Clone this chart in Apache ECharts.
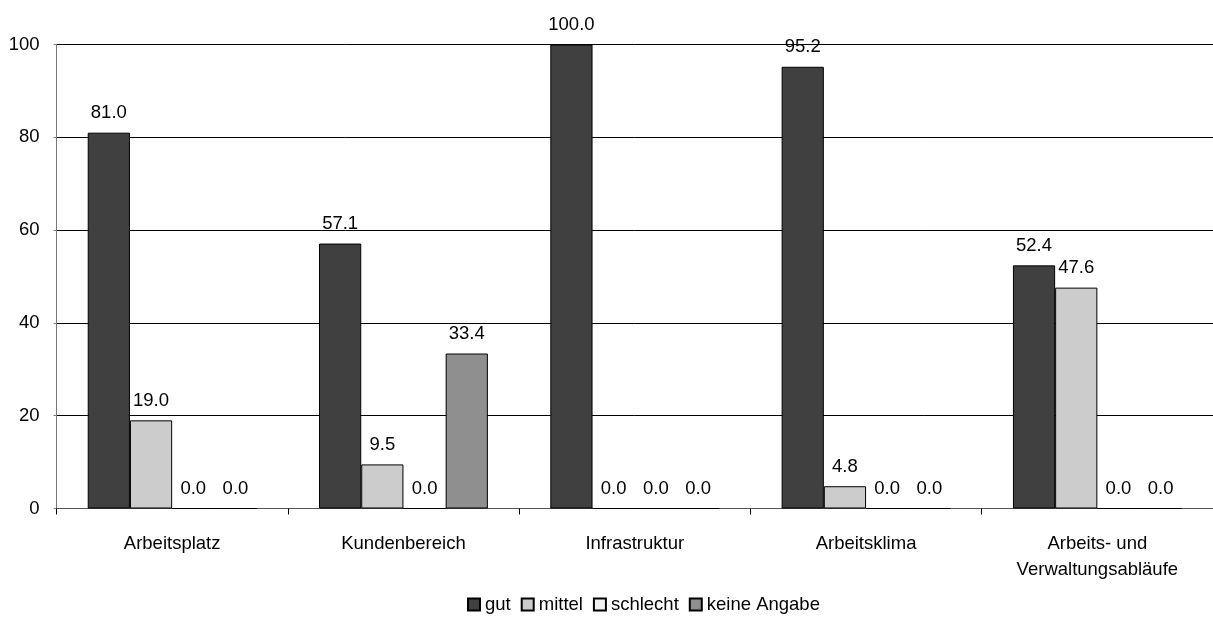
<!DOCTYPE html>
<html>
<head>
<meta charset="utf-8">
<script src="https://cdn.jsdelivr.net/npm/echarts@6/dist/echarts.min.js"></script>
<style>
  html, body { margin: 0; padding: 0; background: #fff; }
  #chart { width: 1213px; height: 639px; }
</style>
</head>
<body>
<div id="chart"></div>
<script>
// Umfrageergebnisse je Bereich (Angaben in Prozent)
const categories = ['Arbeitsplatz', 'Kundenbereich', 'Infrastruktur', 'Arbeitsklima', 'Arbeits- und\nVerwaltungsabläufe'];
const gut = [81.0, 57.1, 100.0, 95.2, 52.4];
const mittel = [19.0, 9.5, 0.0, 4.8, 47.6];
const schlecht = [0.0, 0.0, 0.0, 0.0, 0.0];
const keineAngabe = [0.0, 33.4, 0.0, 0.0, 0.0];
const yTicks = [0, 20, 40, 60, 80, 100];

const FONT = '"Liberation Sans", Arial, sans-serif';
const FS = 18.5;

function barSeries(name, data, color) {
  return {
    name: name,
    type: 'bar',
    data: data,
    barGap: '0%',
    barCategoryGap: '27%',
    itemStyle: { color: color, borderColor: '#000', borderWidth: 1 },
    label: {
      show: true,
      position: 'top',
      distance: 10,
      color: '#000',
      fontFamily: FONT,
      fontSize: FS,
      formatter: p => p.value.toFixed(1)
    }
  };
}

const chart = echarts.init(document.getElementById('chart'), null, { renderer: 'canvas' });
chart.setOption({
  animation: false,
  backgroundColor: '#fff',
  textStyle: { fontFamily: FONT },
  grid: { left: 56.5, top: 44.5, width: 1162.5, height: 464, containLabel: false },
  legend: {
    left: 462,
    top: 590,
    itemWidth: 12,
    itemHeight: 12,
    itemGap: 10,
    icon: 'rect',
    textStyle: { fontFamily: FONT, fontSize: FS, color: '#000' },
    data: ['gut', 'mittel', 'schlecht', 'keine Angabe']
  },
  xAxis: {
    type: 'category',
    data: categories,
    axisLine: { lineStyle: { color: '#555', width: 1 } },
    axisTick: { show: true, length: 6, lineStyle: { color: '#000' } },
    axisLabel: {
      margin: 22,
      color: '#000',
      fontFamily: FONT,
      fontSize: FS,
      lineHeight: 26,
      interval: 0
    }
  },
  yAxis: {
    type: 'value',
    min: yTicks[0],
    max: yTicks[yTicks.length - 1],
    interval: yTicks[1] - yTicks[0],
    axisLine: { show: true, lineStyle: { color: '#777' } },
    axisTick: { show: true, length: 3, lineStyle: { color: '#777' } },
    axisLabel: { margin: 17, color: '#000', fontFamily: FONT, fontSize: FS },
    splitLine: { show: true, lineStyle: { color: '#000', width: 1 } }
  },
  series: [
    barSeries('gut', gut, '#404040'),
    barSeries('mittel', mittel, '#cccccc'),
    barSeries('schlecht', schlecht, '#f2f2f2'),
    barSeries('keine Angabe', keineAngabe, '#8f8f8f')
  ]
});
</script>
</body>
</html>
